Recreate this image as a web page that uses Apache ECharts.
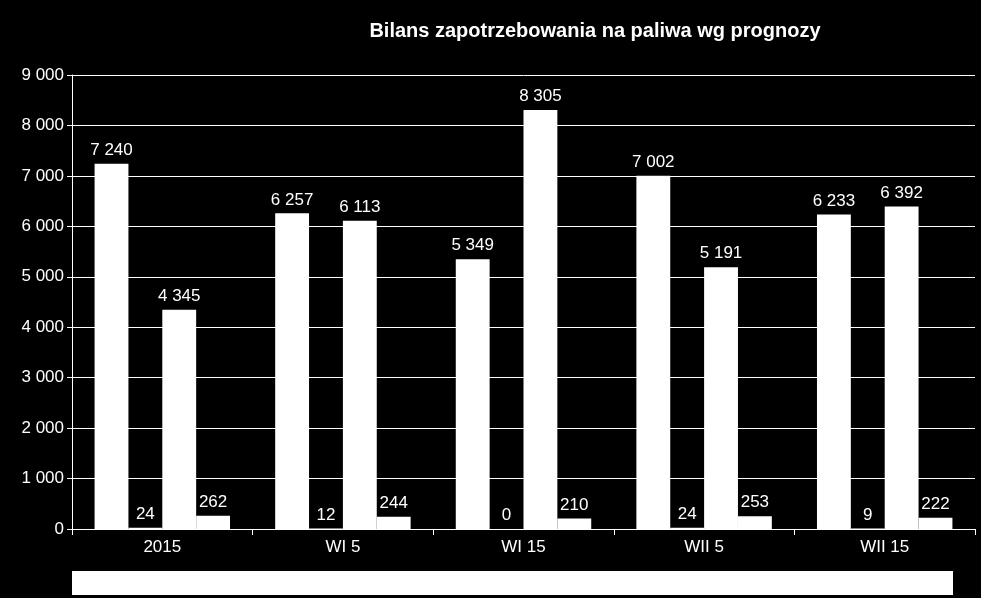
<!DOCTYPE html><html><head><meta charset="utf-8">
<script src="https://cdn.jsdelivr.net/npm/echarts@6/dist/echarts.min.js"></script>
<style>html,body{margin:0;background:#000}#c{width:981px;height:598px}</style></head><body><div id="c"></div>
<script>
const categories=['2015','WI 5','WI 15','WII 5','WII 15'];
const s1=[7240,6257,5349,7002,6233];
const s2=[24,12,0,24,9];
const s3=[4345,6113,8305,5191,6392];
const s4=[262,244,210,253,222];
const fmt=v=>String(v).replace(/\B(?=(\d{3})+(?!\d))/g,' ');
const mk=d=>({type:'bar',data:d,barGap:'0%',barCategoryGap:'25%',itemStyle:{color:'#fff'},
 label:{show:true,position:'top',color:'#fff',fontSize:17,fontFamily:'Liberation Sans',formatter:p=>fmt(p.value)}});
const ch=echarts.init(document.getElementById('c'));
ch.setOption({backgroundColor:'#000',animation:false,
 title:{text:'Bilans zapotrzebowania na paliwa wg prognozy',left:590,top:16,textAlign:'center',textStyle:{color:'#fff',fontSize:20,fontWeight:'bold',fontFamily:'Liberation Sans'}},
 grid:{left:72,right:6,top:75,bottom:69},
 xAxis:{type:'category',data:categories,axisLine:{lineStyle:{color:'#fff'}},axisTick:{show:true,lineStyle:{color:'#fff'},length:6},
  axisLabel:{color:'#fff',fontSize:17,fontFamily:'Liberation Sans',margin:10}},
 yAxis:{type:'value',min:0,max:9000,interval:1000,axisLine:{show:true,lineStyle:{color:'#fff'}},axisTick:{show:true,lineStyle:{color:'#fff'}},
  splitLine:{lineStyle:{color:'#fff'}},axisLabel:{color:'#fff',fontSize:17,fontFamily:'Liberation Sans',formatter:fmt}},
 graphic:[{type:'rect',shape:{x:72,y:571,width:881,height:24},style:{fill:'#fff'}}],
 series:[mk(s1),mk(s2),mk(s3),mk(s4)]});
</script></body></html>
